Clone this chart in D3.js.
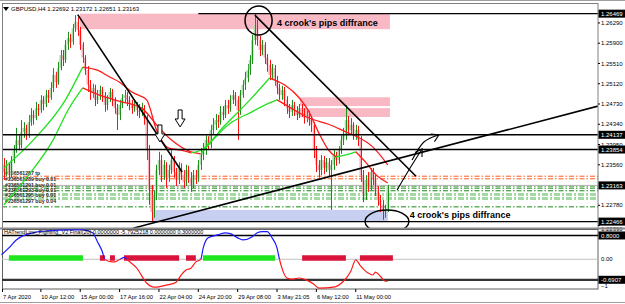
<!DOCTYPE html>
<html>
<head>
<meta charset="utf-8">
<script src="https://cdn.jsdelivr.net/npm/d3@7"></script>
<style>
body { margin: 0; background: #fff; }
svg { display: block; font-family: "Liberation Sans", Arial, sans-serif; }
</style>
</head>
<body>
<script>
// GBPUSD H4 bars, bar 1 = first visible bar (open of bar n = close of bar n-1)
var firstOpen = 1.2356;
var closes = [
  1.2342, 1.2356, 1.2336, 1.2365, 1.2384, 1.2404, 1.2394, 1.2419, 1.2427, 1.2413,
  1.2438, 1.2452, 1.2446, 1.2465, 1.2461, 1.2481, 1.2473, 1.2490, 1.2485, 1.2504,
  1.2529, 1.2515, 1.2542, 1.2567, 1.2558, 1.2587, 1.2600, 1.2592, 1.2619, 1.2631,
  1.2615, 1.2587, 1.2562, 1.2538, 1.2510, 1.2496, 1.2504, 1.2481, 1.2488, 1.2500,
  1.2490, 1.2471, 1.2485, 1.2496, 1.2481, 1.2465, 1.2452, 1.2471, 1.2485, 1.2490,
  1.2481, 1.2473, 1.2465, 1.2471, 1.2461, 1.2458, 1.2465, 1.2446, 1.2384, 1.2307,
  1.2265, 1.2298, 1.2346, 1.2365, 1.2336, 1.2356, 1.2331, 1.2346, 1.2365, 1.2342,
  1.2327, 1.2350, 1.2336, 1.2323, 1.2346, 1.2331, 1.2317, 1.2336, 1.2331, 1.2356,
  1.2375, 1.2384, 1.2404, 1.2394, 1.2423, 1.2433, 1.2442, 1.2438, 1.2458, 1.2452,
  1.2471, 1.2465, 1.2481, 1.2490, 1.2481, 1.2461, 1.2490, 1.2510, 1.2523, 1.2538,
  1.2558, 1.2596, 1.2625, 1.2596, 1.2577, 1.2587, 1.2562, 1.2548, 1.2529, 1.2542,
  1.2519, 1.2504, 1.2490, 1.2500, 1.2481, 1.2465, 1.2458, 1.2471, 1.2461, 1.2452,
  1.2465, 1.2458, 1.2446, 1.2452, 1.2442, 1.2433, 1.2384, 1.2356, 1.2346, 1.2365,
  1.2350, 1.2361, 1.2346, 1.2356, 1.2375, 1.2365, 1.2384, 1.2404, 1.2413, 1.2442,
  1.2423, 1.2433, 1.2413, 1.2423, 1.2404, 1.2336, 1.2298, 1.2327, 1.2317, 1.2342,
  1.2331, 1.2307, 1.2288, 1.2279, 1.2265, 1.2269, 1.23163
];
var highs = [
  1.2369, 1.2365, 1.2361, 1.2373, 1.2394, 1.2427, 1.2413, 1.2442, 1.2438, 1.2433,
  1.2452, 1.2465, 1.2461, 1.2477, 1.2473, 1.2490, 1.2488, 1.2500, 1.2500, 1.2515,
  1.2542, 1.2535, 1.2554, 1.2577, 1.2577, 1.2596, 1.2612, 1.2608, 1.2627, 1.2644,
  1.2640, 1.2621, 1.2592, 1.2567, 1.2546, 1.2519, 1.2512, 1.2510, 1.2500, 1.2508,
  1.2506, 1.2496, 1.2490, 1.2504, 1.2502, 1.2486, 1.2473, 1.2481, 1.2492, 1.2500,
  1.2496, 1.2488, 1.2481, 1.2479, 1.2477, 1.2473, 1.2475, 1.2471, 1.2452, 1.2394,
  1.2317, 1.2307, 1.2356, 1.2381, 1.2375, 1.2365, 1.2361, 1.2356, 1.2384, 1.2373,
  1.2350, 1.2361, 1.2359, 1.2346, 1.2356, 1.2354, 1.2342, 1.2346, 1.2346, 1.2365,
  1.2388, 1.2398, 1.2413, 1.2411, 1.2433, 1.2446, 1.2454, 1.2452, 1.2469, 1.2469,
  1.2481, 1.2481, 1.2490, 1.2500, 1.2496, 1.2488, 1.2500, 1.2519, 1.2535, 1.2550,
  1.2567, 1.2606, 1.26469, 1.2635, 1.2604, 1.2596, 1.2592, 1.2569, 1.2558, 1.2550,
  1.2548, 1.2527, 1.2512, 1.2508, 1.2506, 1.2488, 1.2473, 1.2481, 1.2477, 1.2469,
  1.2473, 1.2473, 1.2465, 1.2461, 1.2460, 1.2450, 1.2438, 1.2392, 1.2365, 1.2375,
  1.2373, 1.2369, 1.2369, 1.2365, 1.2384, 1.2381, 1.2392, 1.2413, 1.2427, 1.2471,
  1.2450, 1.2446, 1.2438, 1.2433, 1.2431, 1.2411, 1.2346, 1.2336, 1.2342, 1.2350,
  1.2350, 1.2338, 1.2315, 1.2298, 1.2288, 1.2279, 1.23172
];
var lows = [
  1.2327, 1.2334, 1.2327, 1.2331, 1.2359, 1.2379, 1.2384, 1.2388, 1.2408, 1.2404,
  1.2408, 1.2431, 1.2433, 1.2442, 1.2450, 1.2456, 1.2461, 1.2467, 1.2475, 1.2481,
  1.2496, 1.2504, 1.2510, 1.2538, 1.2546, 1.2552, 1.2577, 1.2581, 1.2587, 1.2612,
  1.2604, 1.2577, 1.2552, 1.2529, 1.2496, 1.2481, 1.2485, 1.2469, 1.2473, 1.2481,
  1.2477, 1.2458, 1.2461, 1.2477, 1.2469, 1.2454, 1.2423, 1.2442, 1.2465, 1.2475,
  1.2469, 1.2461, 1.2454, 1.2458, 1.2450, 1.2446, 1.2450, 1.2433, 1.2365, 1.2279,
  1.22466, 1.2254, 1.2288, 1.2336, 1.2323, 1.2327, 1.2311, 1.2323, 1.2338, 1.2331,
  1.2315, 1.2319, 1.2327, 1.2311, 1.2315, 1.2321, 1.2304, 1.2311, 1.2319, 1.2323,
  1.2346, 1.2365, 1.2375, 1.2384, 1.2388, 1.2415, 1.2423, 1.2427, 1.2433, 1.2442,
  1.2446, 1.2454, 1.2458, 1.2473, 1.2469, 1.2404, 1.2452, 1.2485, 1.2500, 1.2515,
  1.2529, 1.2550, 1.2587, 1.2585, 1.2565, 1.2567, 1.2550, 1.2535, 1.2519, 1.2519,
  1.2508, 1.2492, 1.2481, 1.2481, 1.2469, 1.2454, 1.2446, 1.2450, 1.2450, 1.2442,
  1.2446, 1.2448, 1.2435, 1.2438, 1.2431, 1.2419, 1.2369, 1.2342, 1.2331, 1.2336,
  1.2338, 1.2342, 1.2334, 1.2269, 1.2346, 1.2354, 1.2358, 1.2377, 1.2394, 1.2404,
  1.2413, 1.2415, 1.2404, 1.2404, 1.2392, 1.2323, 1.2284, 1.2288, 1.2304, 1.2307,
  1.2317, 1.2296, 1.2277, 1.2265, 1.2250, 1.2254, 1.22651
];

// moving averages (bar, value), coloured by slope
var maFastBars = [1, 13, 26, 33, 39, 44, 48, 53, 59, 63, 68, 73, 77, 81, 91, 101, 109, 115, 121, 125, 129, 133, 136, 140, 144, 148, 152, 157];
var maFast = [1.2350, 1.2404, 1.2481, 1.2544, 1.2538, 1.2525, 1.2515, 1.2496, 1.2481, 1.2423, 1.2388, 1.2384, 1.2379, 1.2384, 1.2433, 1.2481, 1.2523, 1.2510, 1.2485, 1.2458, 1.2417, 1.2384, 1.2371, 1.2375, 1.2381, 1.2361, 1.2338, 1.2321];
var maSlowBars = [1, 11, 21, 27, 33, 41, 49, 57, 63, 69, 77, 81, 93, 101, 109, 112, 117, 125, 133, 141, 145, 151, 157];
var maSlow = [1.2279, 1.2336, 1.2404, 1.2461, 1.2504, 1.2488, 1.2477, 1.2465, 1.2433, 1.2404, 1.2381, 1.2377, 1.2436, 1.2456, 1.2475, 1.2481, 1.2467, 1.2446, 1.2434, 1.2417, 1.2409, 1.2390, 1.2356];

// sub window oscillator
var oscBars = [0, 3, 6, 13, 20, 27, 33, 37, 39, 41, 42, 45, 46, 48, 50, 51, 55, 59, 62, 67, 71, 73, 75, 77, 79, 81, 82, 84, 88, 91, 93, 96, 98, 102, 104, 106, 108, 110, 112, 113, 114, 116, 118, 121, 124, 127, 129, 135, 139, 142, 144, 146, 149, 151, 152, 154, 156, 157];
var oscValues = [0.15, 0.38, 0.65, 0.89, 0.96, 0.99, 0.99, 0.89, 0.59, 0.25, -0.01, -0.09, -0.09, -0.01, 0.06, -0.01, -0.30, -0.80, -0.94, -0.87, -0.77, -0.53, -0.36, -0.30, -0.09, 0.0, 0.38, 0.72, 0.82, 0.89, 0.86, 0.72, 0.65, 0.76, 0.89, 0.93, 0.93, 0.72, 0.38, 0.0, -0.30, -0.63, -0.67, -0.63, -0.70, -0.84, -0.97, -0.94, -0.74, -0.40, -0.02, -0.23, -0.46, -0.53, -0.43, -0.57, -0.74, -0.74];
var stateStart = [3, 40, 44.1, 49.8, 75, 81.9, 122.2, 145.7];
var stateEnd = [33.1, 42.1, 46.1, 72.2, 79, 111.2, 140, 159.1];
var stateUp = [true, false, false, false, false, true, false, false];

// time axis
var timeBars = [0, 16, 32, 48, 64, 80, 96, 112, 128, 144];
var timeLabels = ["7 Apr 2020", "10 Apr 12:00", "15 Apr 00:00", "17 Apr 16:00", "22 Apr 04:00", "24 Apr 20:00", "29 Apr 08:00", "3 May 21:05", "6 May 12:00", "11 May 00:00"];

// price axis
var priceTicks = [1.26290, 1.25900, 1.25510, 1.25120, 1.24730, 1.24340, 1.23950, 1.23560, 1.22780, 1.22390];
var priceMarks = [1.26469, 1.24137, 1.23854, 1.23163, 1.22466];
var subTicks = [0, -1];
var subMarks = [0.8, -0.6907];
var subMarkLabels = ["0.8000", "-0.6907"];

// horizontal lines and order levels
var levelPrices = [1.26469, 1.24137, 1.23854, 1.22466];
var levelStart = [80, 0, 0, 0];
var tpLevels = [1.2334, 1.2329];
var buyLevels = [1.2315, 1.2311, 1.2306, 1.2275];
var buyBandLevels = [1.2299, 1.2291];
var bidPrice = 1.23163;
var orderLabels = ["#236561287 tp", "#236561289 buy 0.01", "#236561291 buy 0.01", "#236561293 buy 0.01", "#236561295 buy 0.01", "#236561297 buy 0.04"];
var orderLabelPrices = [1.2336, 1.2325, 1.2314, 1.2304, 1.2294, 1.2283];

// drawn objects (bar, price)
var zoneBars = [[31.9, 157.9], [121.3, 157.9], [121.3, 157.9]];
var zonePrices = [[1.26469, 1.2617], [1.2486, 1.2469], [1.2465, 1.2448]];
var supportBars = [61.2, 157.1];
var supportPrices = [1.2269, 1.22466];
var trendLines = [
  [[31, 1.2645], [73.4, 1.2342]],
  [[103, 1.2644], [168.5, 1.2334]],
  [[53.5, 1.2234], [242.5, 1.2469]]
];
var circleBars = [104.5, 156.7], circlePrices = [1.26337, 1.22468];
var circleBarRadius = [5.5, 8.9], circlePriceRadius = [0.00279, 0.00221];
var downArrowBars = [64.4, 72.6], downArrowPrices = [1.24326, 1.24615];
var handArrows = [
  [[160.8, 1.23075], [166.1, 1.23498], [171, 1.23864]],
  [[166.9, 1.23652], [171.7, 1.23998], [177.8, 1.24134]]
];
var noteText = "4 crook's pips diffrance";
var noteBars = [112, 166], notePrices = [1.26222, 1.22545];
var headerText = "GBPUSD,H4  1.22692 1.23172 1.22651 1.23163";
var subTitle = "HATrendLine_Fighting_V2 Final(20) 0.0000000  -5.7925218 0.0000000 0.3000000";

var width = 625, height = 304;
var plotRight = 598;

var svg = d3.select("body").append("svg")
    .attr("width", width)
    .attr("height", height);

var x = d3.scaleLinear().domain([0, 242]).range([1.5, 596.82]);
var y = d3.scaleLinear().domain([1.22343, 1.26674]).range([228, 3]);
var ySub = d3.scaleLinear().domain([-1, 1.017]).range([289, 229]);

var candles = closes.map(function(c, i) {
  return {bar: i + 1, open: i ? closes[i - 1] : firstOpen, high: highs[i], low: lows[i], close: c};
});

svg.append("rect").attr("width", width).attr("height", height).attr("fill", "#fff");

var main = svg.append("g");
main.append("clipPath").attr("id", "mainClip")
  .append("rect").attr("x", 2).attr("y", 3).attr("width", plotRight - 2).attr("height", 225);
var plot = main.append("g").attr("clip-path", "url(#mainClip)");

// zones
plot.selectAll(".zone").data(zoneBars).enter().append("rect")
    .attr("x", function(d) { return x(d[0]); })
    .attr("width", function(d) { return x(d[1]) - x(d[0]); })
    .attr("y", function(d, i) { return y(zonePrices[i][0]); })
    .attr("height", function(d, i) { return y(zonePrices[i][1]) - y(zonePrices[i][0]); })
    .attr("fill", "#f8b8c4");
plot.append("rect")
    .attr("x", x(supportBars[0]))
    .attr("width", x(supportBars[1]) - x(supportBars[0]))
    .attr("y", y(supportPrices[0]))
    .attr("height", y(supportPrices[1]) - y(supportPrices[0]))
    .attr("fill", "#c8d0f2");

// order lines
var dashDot = "5,2,1.5,2";
plot.selectAll(".tp").data(tpLevels).enter().append("line")
    .attr("x1", 2).attr("x2", plotRight)
    .attr("y1", function(d) { return y(d); }).attr("y2", function(d) { return y(d); })
    .attr("stroke", "#ff5a1e").attr("stroke-width", 1).attr("stroke-dasharray", dashDot);
plot.selectAll(".band").data(buyBandLevels).enter().append("line")
    .attr("x1", 2).attr("x2", plotRight)
    .attr("y1", function(d) { return y(d); }).attr("y2", function(d) { return y(d); })
    .attr("stroke", "#a4d9a4").attr("stroke-width", 3).attr("stroke-dasharray", "6,2,2,2");
plot.selectAll(".buy").data(buyLevels).enter().append("line")
    .attr("x1", 2).attr("x2", plotRight)
    .attr("y1", function(d) { return y(d); }).attr("y2", function(d) { return y(d); })
    .attr("stroke", "#138a13").attr("stroke-width", 1).attr("stroke-dasharray", dashDot);
plot.append("line")
    .attr("x1", 2).attr("x2", plotRight)
    .attr("y1", y(bidPrice)).attr("y2", y(bidPrice))
    .attr("stroke", "#b4b4b4").attr("stroke-width", 1);

plot.selectAll(".olabel").data(orderLabels).enter().append("text")
    .attr("x", 5)
    .attr("y", function(d, i) { return y(orderLabelPrices[i]); })
    .attr("font-size", 5.2).attr("font-weight", "bold").attr("fill", "#2a2a2a")
    .text(function(d) { return d; });

// candles
var candle = plot.append("g").selectAll("g").data(candles).enter().append("g");
candle.append("rect")
    .attr("x", function(d) { return x(d.bar) - 1.2; })
    .attr("width", 2.4)
    .attr("y", function(d) { return y(Math.max(d.open, d.close)); })
    .attr("height", function(d) { return Math.max(1, Math.abs(y(d.open) - y(d.close))); })
    .attr("fill", function(d) { return d.close >= d.open ? "#a9dca9" : "#f6b2bc"; });
candle.append("line")
    .attr("x1", function(d) { return Math.round(x(d.bar)) + 0.5; })
    .attr("x2", function(d) { return Math.round(x(d.bar)) + 0.5; })
    .attr("y1", function(d) { return y(d.high); })
    .attr("y2", function(d) { return y(d.low); })
    .attr("stroke", function(d) { return d.close >= d.open ? "#1d8f1d" : "#ff1010"; })
    .attr("stroke-width", 1);

// slope coloured averages
function drawSlopeLine(bars, vals) {
  var runs = [], cur = null;
  for (var k = 0; k < bars.length - 1; k++) {
    var c = vals[k + 1] >= vals[k] ? "#22e022" : "#ff1a1a";
    if (!cur || cur.color !== c) {
      cur = {color: c, pts: [[bars[k], vals[k]]]};
      runs.push(cur);
    }
    cur.pts.push([bars[k + 1], vals[k + 1]]);
  }
  var line = d3.line()
      .x(function(d) { return x(d[0]); })
      .y(function(d) { return y(d[1]); })
      .curve(d3.curveMonotoneX);
  plot.append("g").selectAll("path").data(runs).enter().append("path")
      .attr("d", function(d) { return line(d.pts); })
      .attr("fill", "none")
      .attr("stroke", function(d) { return d.color; })
      .attr("stroke-width", 1.3);
}
drawSlopeLine(maSlowBars, maSlow);
drawSlopeLine(maFastBars, maFast);

// horizontal lines
plot.selectAll(".level").data(levelPrices).enter().append("line")
    .attr("x1", function(d, i) { return x(levelStart[i]); }).attr("x2", plotRight)
    .attr("y1", function(d) { return y(d); }).attr("y2", function(d) { return y(d); })
    .attr("stroke", "#000").attr("stroke-width", 1.4);

// trend lines
var tl = d3.line().x(function(d) { return x(d[0]); }).y(function(d) { return y(d[1]); });
plot.selectAll(".trend").data(trendLines).enter().append("path")
    .attr("d", tl)
    .attr("stroke", "#000").attr("stroke-width", 1.6).attr("fill", "none");

// hand drawn arrows
var hl = d3.line().x(function(d) { return x(d[0]); }).y(function(d) { return y(d[1]); }).curve(d3.curveNatural);
handArrows.forEach(function(pts) {
  plot.append("path").attr("d", hl(pts))
      .attr("stroke", "#000").attr("stroke-width", 1.1).attr("fill", "none");
  var a = pts[pts.length - 2], b = pts[pts.length - 1];
  var tx = x(b[0]), ty = y(b[1]);
  var ang = Math.atan2(ty - y(a[1]), tx - x(a[0]));
  var head = [ang + 2.6, ang - 2.6].map(function(t) { return [tx + 8 * Math.cos(t), ty + 8 * Math.sin(t)]; });
  plot.append("path")
      .attr("d", "M" + head[0] + "L" + tx + "," + ty + "L" + head[1])
      .attr("stroke", "#000").attr("stroke-width", 1.1).attr("fill", "none");
});

// down arrows
plot.selectAll(".darrow").data(downArrowBars).enter().append("path")
    .attr("transform", function(d, i) { return "translate(" + x(d) + "," + y(downArrowPrices[i]) + ")"; })
    .attr("d", "M-2,0H2V9H5L0,17L-5,9H-2Z")
    .attr("fill", "#fff").attr("stroke", "#000").attr("stroke-width", 1);

// circles
plot.selectAll(".ring").data(circleBars).enter().append("ellipse")
    .attr("cx", function(d) { return x(d); })
    .attr("cy", function(d, i) { return y(circlePrices[i]); })
    .attr("rx", function(d, i) { return x(d + circleBarRadius[i]) - x(d); })
    .attr("ry", function(d, i) { return y(circlePrices[i] - circlePriceRadius[i]) - y(circlePrices[i]); })
    .attr("fill", "none").attr("stroke", "#000").attr("stroke-width", 1.5);

plot.selectAll(".note").data(noteBars).enter().append("text")
    .attr("x", function(d) { return x(d); })
    .attr("y", function(d, i) { return y(notePrices[i]); })
    .attr("font-size", 9).attr("font-weight", "bold").attr("fill", "#000")
    .text(noteText);

// header
main.append("path").attr("d", "M3,7H9L6,11Z").attr("fill", "#000");
main.append("text").attr("x", 11).attr("y", 11)
    .attr("font-size", 6).attr("fill", "#000").text(headerText);

// frame
main.append("rect").attr("x", 2.5).attr("y", 3.5).attr("width", plotRight - 2.5).attr("height", 225)
    .attr("fill", "none").attr("stroke", "#808080").attr("stroke-width", 1);
svg.append("line").attr("x1", 0).attr("x2", width).attr("y1", 0.5).attr("y2", 0.5).attr("stroke", "#a0a0a0");

// price axis
var axis = svg.append("g");
axis.selectAll(".pt").data(priceTicks).enter().append("text")
    .attr("x", 601)
    .attr("y", function(d) { var ty = y(d) + 2.2; return ty > 227 ? 231.3 : ty; })
    .attr("font-size", 6).attr("fill", "#000")
    .text(function(d) { return d.toFixed(5); });
axis.selectAll(".ptick").data(priceTicks).enter().append("line")
    .attr("x1", plotRight).attr("x2", plotRight + 2)
    .attr("y1", function(d) { return y(d); }).attr("y2", function(d) { return y(d); })
    .attr("stroke", "#000");
var mark = axis.selectAll(".pm").data(priceMarks).enter().append("g")
    .attr("transform", function(d) { return "translate(" + plotRight + "," + y(d) + ")"; });
mark.append("rect").attr("x", 0.5).attr("y", -4).attr("width", 27).attr("height", 8).attr("fill", "#000");
mark.append("text").attr("x", 3).attr("y", 2.2).attr("font-size", 6).attr("fill", "#fff")
    .text(function(d) { return d.toFixed(5); });

// separator between windows
svg.append("rect").attr("x", 0).attr("y", 227.5).attr("width", width).attr("height", 2).attr("fill", "#8c8c8c");

// sub window
var sub = svg.append("g");
sub.append("rect").attr("x", 2.5).attr("y", 229.5).attr("width", plotRight - 2.5).attr("height", 59.5)
    .attr("fill", "none").attr("stroke", "#606060");
sub.append("line").attr("x1", 2).attr("x2", plotRight).attr("y1", ySub(0)).attr("y2", ySub(0))
    .attr("stroke", "#c0c0c0");
sub.append("line").attr("x1", 2).attr("x2", plotRight).attr("y1", ySub(0.8)).attr("y2", ySub(0.8))
    .attr("stroke", "#000").attr("stroke-width", 1.6);
sub.append("line").attr("x1", 2).attr("x2", plotRight).attr("y1", ySub(-0.6907)).attr("y2", ySub(-0.6907))
    .attr("stroke", "#333").attr("stroke-width", 2.2);

sub.selectAll(".state").data(stateStart).enter().append("rect")
    .attr("x", function(d) { return x(d); })
    .attr("width", function(d, i) { return x(stateEnd[i]) - x(d); })
    .attr("y", ySub(0) - 4).attr("height", 5.5)
    .attr("fill", function(d, i) { return stateUp[i] ? "#1ee61e" : "#d8143c"; });

sub.append("clipPath").attr("id", "oscUp")
  .append("rect").attr("x", 0).attr("y", 229).attr("width", plotRight).attr("height", ySub(0) - 229);
sub.append("clipPath").attr("id", "oscDown")
  .append("rect").attr("x", 0).attr("y", ySub(0)).attr("width", plotRight).attr("height", 289 - ySub(0));
var osc = d3.line()
    .x(function(d, i) { return x(oscBars[i]); })
    .y(function(d) { return ySub(d); })
    .curve(d3.curveMonotoneX);
sub.append("path").attr("d", osc(oscValues)).attr("clip-path", "url(#oscUp)")
    .attr("fill", "none").attr("stroke", "#1a1aff").attr("stroke-width", 1.2);
sub.append("path").attr("d", osc(oscValues)).attr("clip-path", "url(#oscDown)")
    .attr("fill", "none").attr("stroke", "#ff1a1a").attr("stroke-width", 1.2);

sub.append("text").attr("x", 4).attr("y", 234).attr("font-size", 5.5).attr("fill", "#000").text(subTitle);

sub.selectAll(".st").data(subTicks).enter().append("text")
    .attr("x", 601).attr("y", function(d) { return Math.min(ySub(d), 286) + 2.2; })
    .attr("font-size", 6).attr("fill", "#000")
    .text(function(d) { return d === 0 ? "0.00" : d3.format("d")(d); });
var smark = sub.selectAll(".sm").data(subMarks).enter().append("g")
    .attr("transform", function(d) { return "translate(" + plotRight + "," + ySub(d) + ")"; });
smark.append("rect").attr("x", 0.5).attr("y", -4).attr("width", 27).attr("height", 8).attr("fill", "#000");
smark.append("text").attr("x", 3).attr("y", 2.2).attr("font-size", 6).attr("fill", "#fff")
    .text(function(d, i) { return subMarkLabels[i]; });

// time axis
var tAxis = svg.append("g");
tAxis.selectAll("line").data(timeBars).enter().append("line")
    .attr("x1", function(d) { return Math.max(2.5, x(d)); }).attr("x2", function(d) { return Math.max(2.5, x(d)); })
    .attr("y1", 289).attr("y2", 292).attr("stroke", "#000");
tAxis.selectAll("text").data(timeLabels).enter().append("text")
    .attr("x", function(d, i) { return Math.max(2.5, x(timeBars[i])) + 0.5; })
    .attr("y", 298.5)
    .attr("font-size", 5.8).attr("fill", "#000")
    .text(function(d) { return d; });

svg.append("line").attr("x1", 0).attr("x2", width).attr("y1", 302.5).attr("y2", 302.5).attr("stroke", "#a0a0a0");
</script>
</body>
</html>
